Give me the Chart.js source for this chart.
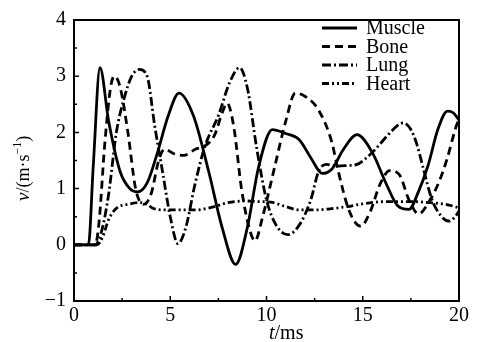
<!DOCTYPE html>
<html>
<head>
<meta charset="utf-8">
<script src="https://cdn.jsdelivr.net/npm/chart.js@4"></script>
<style>
  body { margin: 0; background: #fff; }
  #wrap { width: 479px; height: 342px; }
</style>
</head>
<body>
<div id="wrap"><canvas id="myChart" width="479" height="342"></canvas></div>
<script>
// velocity curves, t in ms, v in m/s
const muscleT = [0, 0.75, 1.0, 1.35, 1.8, 2.4, 2.9, 3.3, 3.8, 4.3, 4.9, 5.45, 6.2, 7.0, 7.7, 8.4, 9.0, 9.6, 10.3, 11.0, 11.7, 12.3, 12.9, 13.4, 14.0, 14.7, 15.5, 16.2, 16.8, 17.4, 17.9, 18.4, 18.9, 19.4, 19.7, 20];
const muscleV = [0, 0, 1.4, 3.15, 2.2, 1.3, 1.0, 0.94, 1.1, 1.6, 2.3, 2.7, 2.3, 1.3, 0.3, -0.35, 0.3, 1.4, 2.05, 1.98, 1.87, 1.55, 1.27, 1.35, 1.7, 1.96, 1.64, 1.1, 0.7, 0.63, 0.95, 1.42, 2.05, 2.38, 2.35, 2.22];

const boneT = [0, 1.1, 1.3, 1.6, 1.9, 2.1, 2.4, 2.8, 3.2, 3.6, 4.0, 4.4, 4.7, 5.2, 5.7, 6.3, 6.8, 7.3, 7.7, 7.95, 8.3, 8.7, 9.1, 9.4, 9.8, 10.4, 11.0, 11.5, 12.1, 12.7, 13.4, 13.7, 14.3, 14.9, 15.4, 15.9, 16.4, 16.9, 17.4, 17.9, 18.5, 19.0, 19.4, 19.8, 20];
const boneV = [0, 0, 0.4, 1.8, 2.8, 3.0, 2.8, 2.0, 1.0, 0.72, 0.9, 1.5, 1.7, 1.62, 1.59, 1.7, 1.76, 1.95, 2.35, 2.52, 2.1, 1.0, 0.3, 0.07, 0.5, 1.35, 2.2, 2.7, 2.62, 2.4, 1.82, 1.35, 0.6, 0.33, 0.6, 1.08, 1.32, 1.25, 0.8, 0.55, 0.8, 1.15, 1.55, 2.05, 2.25];

const lungT = [0, 1.1, 1.4, 1.8, 2.2, 2.6, 3.0, 3.4, 3.8, 4.2, 4.6, 5.0, 5.4, 5.8, 6.3, 6.8, 7.5, 8.1, 8.6, 9.0, 9.5, 10.0, 10.5, 11.1, 11.7, 12.3, 12.7, 13.1, 13.7, 14.2, 14.7, 15.2, 15.6, 16.3, 16.8, 17.1, 17.5, 17.8, 18.1, 18.6, 19.1, 19.5, 19.8, 20];
const lungV = [0, 0, 0.2, 0.9, 2.0, 2.6, 3.0, 3.12, 3.0, 2.1, 1.3, 0.5, 0.02, 0.3, 1.1, 1.75, 2.3, 2.9, 3.15, 2.8, 1.7, 0.8, 0.35, 0.18, 0.35, 0.8, 1.3, 1.43, 1.4, 1.41, 1.43, 1.55, 1.68, 1.95, 2.12, 2.17, 2.05, 1.8, 1.42, 0.8, 0.5, 0.42, 0.5, 0.6];

const heartT = [0, 1.2, 1.5, 1.8, 2.2, 2.8, 3.4, 3.8, 4.1, 4.8, 5.5, 6.3, 7.3, 8.0, 8.9, 9.6, 10.2, 11.0, 11.7, 12.5, 13.3, 14.2, 15.0, 16.3, 17.5, 18.5, 19.3, 20];
const heartV = [0, 0, 0.15, 0.45, 0.65, 0.72, 0.75, 0.72, 0.65, 0.62, 0.62, 0.62, 0.68, 0.75, 0.78, 0.77, 0.76, 0.68, 0.62, 0.62, 0.64, 0.68, 0.73, 0.77, 0.77, 0.75, 0.72, 0.66];

const seriesNames = ['Muscle', 'Bone', 'Lung', 'Heart'];
const xTicks = [0, 5, 10, 15, 20];
const yTicks = [-1, 0, 1, 2, 3, 4];

const serif = '"Liberation Serif", "DejaVu Serif", serif';

function pts(ts, vs) {
    return ts.map((t, i) => ({ x: t, y: vs[i] }));
}

const dashes = [[], [8, 5], [9, 3, 2, 3], [7, 3, 2, 3, 2, 3]];
const allT = [muscleT, boneT, lungT, heartT];
const allV = [muscleV, boneV, lungV, heartV];

const datasets = seriesNames.map((name, i) => ({
    label: name,
    data: pts(allT[i], allV[i]),
    borderColor: '#000',
    borderWidth: 2.8,
    borderDash: dashes[i],
    pointRadius: 0,
    fill: false,
    cubicInterpolationMode: 'monotone'
}));

// frame, inward ticks, legend and axis titles
const decor = {
    id: 'decor',
    afterDraw(chart) {
        const c = chart.ctx;
        const a = chart.chartArea;
        const xs = chart.scales.x, ys = chart.scales.y;
        c.save();
        c.strokeStyle = '#000';
        c.lineWidth = 2;
        c.setLineDash([]);
        c.strokeRect(a.left, a.top, a.right - a.left, a.bottom - a.top);

        c.lineWidth = 1.5;
        c.beginPath();
        for (let t = 0; t <= 20; t += 2.5) {
            const px = xs.getPixelForValue(t);
            const len = (t % 5 === 0) ? 5 : 3;
            c.moveTo(px, a.bottom);
            c.lineTo(px, a.bottom - len);
        }
        for (let v = -1; v <= 4; v += 0.5) {
            const py = ys.getPixelForValue(v);
            const len = Number.isInteger(v) ? 5 : 3;
            c.moveTo(a.left, py);
            c.lineTo(a.left + len, py);
        }
        c.stroke();

        // legend
        const lx0 = 322, lx1 = 357, tx = 366;
        let ly = 28;
        c.textBaseline = 'middle';
        c.font = '20px ' + serif;
        chart.data.datasets.forEach(ds => {
            c.lineWidth = 2.8;
            c.setLineDash(ds.borderDash);
            c.beginPath();
            c.moveTo(lx0, ly);
            c.lineTo(lx1, ly);
            c.stroke();
            c.setLineDash([]);
            c.fillStyle = '#000';
            c.fillText(ds.label, tx, ly + 1);
            ly += 18.5;
        });

        // x title
        c.textBaseline = 'alphabetic';
        c.font = 'italic 20px ' + serif;
        let x = 269;
        const by = 339;
        c.fillText('t', x, by);
        x += c.measureText('t').width;
        c.font = '20px ' + serif;
        c.fillText('/ms', x, by);

        // y title (rotated)
        c.translate(29, 201);
        c.rotate(-Math.PI / 2);
        x = 0;
        c.font = 'italic 19px ' + serif;
        c.fillText('v', x, 0);
        x += c.measureText('v').width;
        c.font = '18px ' + serif;
        c.fillText('/(m\u00b7s', x, 0);
        x += c.measureText('/(m\u00b7s').width;
        c.font = '12px ' + serif;
        c.fillText('\u22121', x, -8);
        x += c.measureText('\u22121').width;
        c.font = '18px ' + serif;
        c.fillText(')', x, 0);
        c.restore();
    }
};

const ctx = document.getElementById('myChart').getContext('2d');
const myChart = new Chart(ctx, {
    type: 'line',
    data: { datasets: datasets },
    options: {
        responsive: false,
        animation: false,
        layout: { padding: { top: 15, right: 20, left: 0, bottom: 0 } },
        plugins: { legend: { display: false }, tooltip: { enabled: false } },
        scales: {
            x: {
                type: 'linear',
                min: 0, max: 20,
                afterBuildTicks: s => { s.ticks = xTicks.map(v => ({ value: v })); },
                afterFit: s => { s.height = 41; },
                grid: { display: false, drawTicks: false },
                border: { display: false },
                ticks: { color: '#000', padding: 3, maxRotation: 0, font: { family: serif, size: 20 } }
            },
            y: {
                min: -1, max: 4,
                afterBuildTicks: s => { s.ticks = yTicks.map(v => ({ value: v })); },
                afterFit: s => { s.width = 74; },
                grid: { display: false, drawTicks: false },
                border: { display: false },
                ticks: {
                    color: '#000', padding: 8,
                    font: { family: serif, size: 20 },
                    callback: v => v < 0 ? '\u2212' + Math.abs(v) : String(v)
                }
            }
        }
    },
    plugins: [decor]
});
</script>
</body>
</html>
